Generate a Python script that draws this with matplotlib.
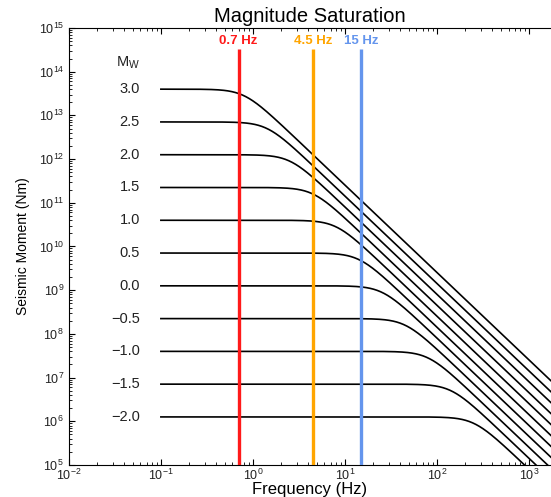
import numpy as np
import matplotlib
matplotlib.use('Agg')
import matplotlib.pyplot as plt

plt.rcParams['font.family'] = ['Liberation Sans', 'DejaVu Sans']

# magnitudes, plateau moment (log10 Nm) and corner frequency (Hz)
mw = [3.0, 2.5, 2.0, 1.5, 1.0, 0.5, 0.0, -0.5, -1.0, -1.5, -2.0]
log_m0 = [13.6, 12.85, 12.1, 11.35, 10.6, 9.85, 9.1, 8.35, 7.6, 6.85, 6.1]
fc = [0.8, 1.42, 2.53, 4.5, 8.0, 14.2, 25.3, 45.0, 80.0, 142.0, 253.0]

# instrument frequencies
band_f = [0.7, 4.5, 15]
band_lab = ['0.7 Hz', '4.5 Hz', '15 Hz']
band_col = ['#ff1a1a', '#ffa500', '#6495ed']

fig = plt.figure(figsize=(5.51, 4.97), dpi=100)
ax = fig.add_axes([0.125, 0.0644, 0.875, 0.8793])

f = np.logspace(-1, 3.5, 600)
for m0, c in zip(log_m0, fc):
    spec = 10**m0 / np.sqrt(1 + (f / c)**4)
    ax.plot(f, spec, color='black', lw=1.2, zorder=3)

for m, m0 in zip(mw, log_m0):
    ax.text(0.059, 10**m0, f'{m:.1f}'.replace('-', '\u2212'), ha='right', va='center',
            fontsize=10.5, color='#222222')
ax.text(0.059, 10**14.2, 'M$_\\mathregular{W}$', ha='right', va='center',
        fontsize=10.5, color='#222222')

for x, lab, col in zip(band_f, band_lab, band_col):
    ax.plot([x, x], [1e5, 10**14.52], color=col, lw=2.4, zorder=4, solid_capstyle='butt')
    ax.text(x, 10**14.56, lab, color=col, fontsize=9.5, fontweight='bold',
            ha='center', va='bottom')

ax.set_xscale('log')
ax.set_yscale('log')
ax.set_xlim(1e-2, 10**3.24)
ax.set_ylim(1e5, 1e15)
ax.spines['right'].set_visible(False)
ax.tick_params(which='both', direction='in', top=True, right=False,
               labelsize=9, labelcolor='#222222')
ax.tick_params(axis='x', which='both', pad=2)
ax.tick_params(which='major', length=4)
ax.tick_params(which='minor', length=2)
ax.yaxis.set_major_locator(matplotlib.ticker.LogLocator(base=10, numticks=20))
ax.yaxis.set_minor_locator(matplotlib.ticker.LogLocator(base=10, subs=np.arange(2, 10), numticks=20))

ax.set_title('Magnitude Saturation', fontsize=14.5, pad=4)
ax.set_xlabel('Frequency (Hz)', fontsize=12)
ax.xaxis.set_label_coords(0.5, -0.04)
ax.set_ylabel('Seismic Moment (Nm)', fontsize=10, labelpad=6)

fig.savefig('out.png', dpi=100)
